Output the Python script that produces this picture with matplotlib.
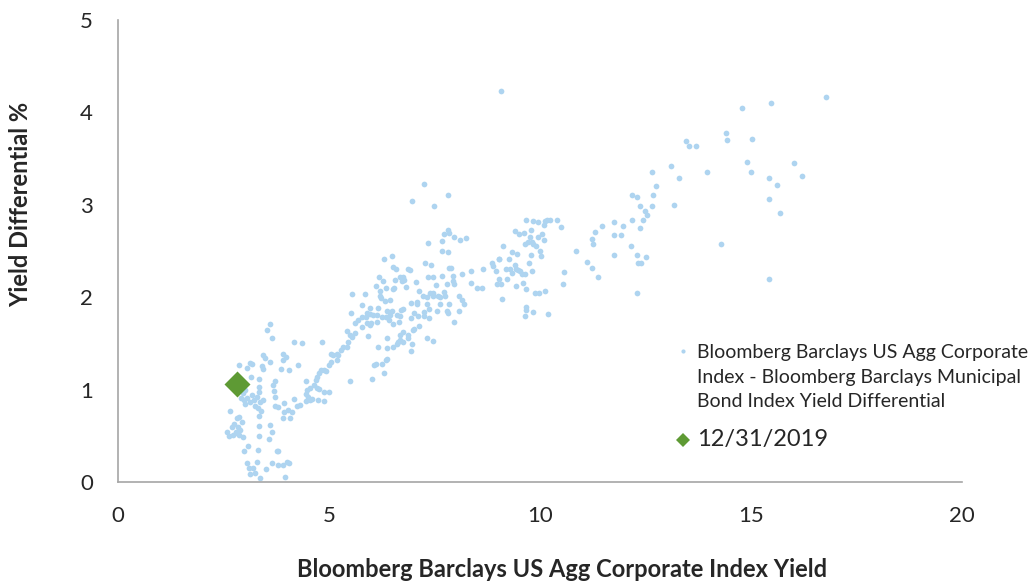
import matplotlib
matplotlib.use("Agg")
import matplotlib.pyplot as plt

plt.rcParams['font.family'] = ['Lato', 'DejaVu Sans']

# corporate index yield (x) vs. corporate - municipal yield differential (y)
corp_yield = [
    # low yield cluster
    3.60, 3.54, 3.65, 4.18, 3.43, 3.48, 3.60, 3.90, 3.98, 3.90, 3.86, 4.05, 4.26, 3.13, 3.18,
    3.05, 2.87, 3.41, 3.44, 3.34, 3.14, 3.35, 3.72, 3.68, 3.35, 3.72, 3.93, 4.17, 2.91, 2.99,
    3.06, 3.13, 3.22, 3.30, 3.36, 3.25, 3.32, 3.38, 3.01, 3.17, 3.44, 3.72, 3.80, 3.93, 4.02,
    4.12, 4.23, 3.92, 4.08, 3.35, 2.66, 2.81, 2.87, 2.93, 2.75, 2.69, 2.85, 2.80, 2.89, 2.59,
    2.64, 2.72, 2.81, 2.97, 2.87, 3.35, 3.60, 3.64, 3.35, 3.57, 3.32, 3.08, 2.99, 3.80, 3.76,
    3.06, 3.29, 3.11, 3.21, 3.13, 3.25, 3.36, 3.51, 3.65, 3.80, 3.92, 4.00, 4.06, 3.96, 3.70,
    3.00, 2.95,
    # 4.3 - 6.4
    4.45, 4.47, 4.55, 4.64, 4.72, 4.77, 4.45, 4.51, 4.55, 4.45, 4.59, 4.75, 4.88, 5.01, 4.88,
    4.31, 4.69, 4.72, 4.77, 4.81, 4.88, 4.93, 5.00, 5.05, 5.50, 6.01, 6.07, 6.11, 6.25, 6.30,
    6.35,
    # 5 - 9 main body
    7.24, 7.81, 6.97, 7.49, 7.81, 7.85, 7.73, 7.97, 8.10, 8.25, 7.35, 7.67, 7.68, 7.83, 6.30,
    6.50, 6.52, 6.59, 6.88, 6.92, 7.28, 7.42, 7.84, 7.89, 8.36, 8.65, 8.87, 8.89, 8.96, 9.02,
    8.99, 9.04, 6.19, 6.29, 6.56, 6.68, 6.76, 6.78, 6.72, 7.07, 7.34, 7.46, 7.68, 7.94, 8.16,
    6.11, 6.35, 6.21, 6.52, 6.54, 6.82, 7.53, 7.80, 7.95, 7.96, 8.36, 8.51, 8.62, 5.54, 5.85,
    6.21, 6.45, 6.33, 6.23, 7.13, 7.22, 7.32, 7.39, 7.47, 7.47, 7.58, 7.73, 7.75, 7.64, 8.08,
    8.14, 6.94, 7.09, 7.08, 7.32, 7.63, 7.85, 8.21, 8.07, 5.78, 5.97, 6.17, 6.37, 6.49, 6.71,
    6.76, 5.52, 5.77, 5.89, 5.97, 5.88, 6.05, 6.13, 6.25, 6.35, 6.45, 6.60, 6.68, 7.02, 7.25,
    7.36, 7.57, 7.79, 7.83, 5.69, 5.62, 5.89, 5.99, 6.13, 6.41, 6.52, 6.65, 6.95, 7.12, 7.26,
    7.38, 7.97, 5.42, 5.50, 5.62, 5.54, 5.77, 5.97, 5.93, 6.37, 6.68, 6.76, 6.88, 7.00, 7.02,
    7.13, 5.34, 5.46, 5.05, 5.10, 5.22, 5.18, 6.16, 6.38, 6.52, 6.60, 6.64, 6.68, 6.76, 6.88,
    6.96, 6.94, 7.32, 7.47, 4.35, 4.83, 6.37, 5.29, 5.43, 5.20,
    # 9 - 13.3
    9.08, 13.10, 12.65, 13.30, 12.75, 12.69, 12.19, 12.31, 12.37, 12.65, 13.17, 12.48, 12.54,
    12.45, 12.19, 12.38, 11.76, 11.96, 11.48, 11.30, 11.75, 11.93, 11.24, 11.26, 12.15, 11.76,
    12.29, 12.52, 12.33, 12.40, 11.12, 11.24, 11.37, 10.85, 12.29, 10.58, 10.54, 10.40, 10.50,
    9.66, 9.84, 9.95, 10.13, 10.16, 10.24, 10.10, 9.41, 9.51, 9.63, 9.78, 9.76, 9.95, 10.05,
    10.09, 9.64, 9.72, 9.80, 9.84, 9.91, 10.00, 10.02, 9.79, 9.12, 9.33, 9.46, 9.27, 9.03,
    9.19, 9.29, 9.34, 9.41, 9.43, 9.47, 9.53, 9.58, 9.64, 9.80, 9.75, 9.08, 9.21, 9.42, 9.60,
    9.68, 9.88, 9.97, 10.13, 9.10, 9.67, 9.68, 9.84, 9.64, 10.19,
    # high yield tail
    13.47, 13.53, 13.70, 16.78, 14.79, 15.48, 14.40, 14.43, 15.03, 13.97, 14.90, 15.00, 15.42,
    15.62, 16.01, 16.22, 15.43, 15.68, 14.29, 15.42,
]

yield_diff = [
    1.71, 1.65, 1.56, 1.51, 1.37, 1.34, 1.30, 1.38, 1.35, 1.32, 1.22, 1.21, 1.27, 1.29, 1.28,
    1.23, 1.27, 1.25, 1.22, 1.11, 1.14, 1.03, 1.09, 1.05, 0.97, 0.92, 0.86, 0.90, 0.91, 0.89,
    0.91, 0.87, 0.89, 0.92, 0.87, 0.82, 0.80, 0.77, 0.84, 0.94, 0.89, 0.82, 0.81, 0.76, 0.78,
    0.76, 0.82, 0.69, 0.69, 0.71, 0.77, 0.69, 0.70, 0.65, 0.63, 0.60, 0.59, 0.54, 0.56, 0.54,
    0.50, 0.51, 0.53, 0.49, 0.51, 0.61, 0.62, 0.54, 0.50, 0.47, 0.35, 0.39, 0.34, 0.34, 0.33,
    0.21, 0.22, 0.15, 0.15, 0.09, 0.10, 0.04, 0.14, 0.21, 0.18, 0.18, 0.22, 0.21, 0.05, 0.98,
    1.00, 0.96,
    1.09, 1.00, 1.02, 1.05, 1.02, 1.01, 0.95, 0.92, 0.89, 0.88, 0.90, 0.89, 0.97, 0.97, 0.88,
    0.83, 1.10, 1.14, 1.18, 1.21, 1.21, 1.20, 1.27, 1.30, 1.09, 1.11, 1.27, 1.28, 1.28, 1.18,
    1.32,
    3.23, 3.11, 3.04, 2.99, 2.73, 2.69, 2.68, 2.65, 2.62, 2.64, 2.59, 2.61, 2.50, 2.49, 2.41,
    2.45, 2.33, 2.31, 2.30, 2.29, 2.37, 2.35, 2.32, 2.32, 2.28, 2.31, 2.37, 2.34, 2.28, 2.41,
    2.14, 2.20, 2.22, 2.18, 2.19, 2.22, 2.22, 2.19, 2.17, 2.16, 2.22, 2.22, 2.23, 2.23, 2.25,
    2.12, 2.10, 2.07, 2.09, 2.10, 2.11, 2.13, 2.14, 2.17, 2.14, 2.15, 2.10, 2.10, 2.03, 2.03,
    2.01, 1.97, 1.96, 1.99, 2.07, 2.01, 2.00, 2.05, 2.05, 2.01, 2.01, 2.06, 2.01, 2.00, 2.01,
    1.97, 1.94, 1.95, 1.93, 1.93, 1.93, 1.93, 1.93, 1.85, 1.92, 1.88, 1.88, 1.85, 1.85, 1.86,
    1.87, 1.83, 1.79, 1.83, 1.82, 1.79, 1.81, 1.81, 1.79, 1.79, 1.81, 1.81, 1.80, 1.83, 1.84,
    1.87, 1.85, 1.85, 1.83, 1.75, 1.72, 1.72, 1.72, 1.73, 1.75, 1.71, 1.73, 1.78, 1.80, 1.80,
    1.77, 1.73, 1.63, 1.59, 1.61, 1.57, 1.68, 1.70, 1.58, 1.56, 1.59, 1.62, 1.59, 1.65, 1.66,
    1.69, 1.46, 1.51, 1.39, 1.37, 1.37, 1.32, 1.46, 1.45, 1.46, 1.49, 1.52, 1.54, 1.52, 1.56,
    1.49, 1.42, 1.56, 1.53, 1.50, 1.51, 1.33, 1.43, 1.46, 1.38,
    4.23, 3.42, 3.35, 3.29, 3.20, 3.11, 3.11, 3.08, 2.99, 2.99, 3.00, 2.93, 2.89,
    2.84, 2.84, 2.75, 2.81, 2.77, 2.77, 2.71, 2.67, 2.67, 2.63, 2.58, 2.55, 2.46,
    2.46, 2.44, 2.37, 2.37, 2.38, 2.32, 2.22, 2.50, 2.04, 2.27, 2.14, 2.84, 2.76,
    2.84, 2.82, 2.81, 2.82, 2.84, 2.84, 2.78, 2.72, 2.68, 2.69, 2.73, 2.65, 2.65, 2.68,
    2.62, 2.58, 2.60, 2.60, 2.58, 2.55, 2.50, 2.45, 2.46, 2.55, 2.49, 2.47, 2.41, 2.41,
    2.31, 2.31, 2.26, 2.35, 2.31, 2.29, 2.28, 2.25, 2.25, 2.28, 2.37, 2.14, 2.20, 2.12, 2.15,
    2.09, 2.05, 2.04, 2.07, 1.98, 1.89, 1.86, 1.84, 1.80, 1.82,
    3.69, 3.64, 3.64, 4.17, 4.05, 4.10, 3.78, 3.70, 3.71, 3.36, 3.46, 3.35, 3.29,
    3.21, 3.45, 3.31, 3.06, 2.91, 2.58, 2.20,
]

# latest observation
latest_label = "12/31/2019"
latest_x = [2.81]
latest_y = [1.06]

series_label = ("Bloomberg Barclays US Agg Corporate\n"
                "Index - Bloomberg Barclays Municipal\n"
                "Bond Index Yield Differential")

dot_color = "#AED4F0"
green = "#5E9A34"
text_color = "#262626"

fig = plt.figure(figsize=(10.31, 5.84), dpi=100)
ax = fig.add_axes([0.1145, 0.1747, 0.8185, 0.7911])

ax.scatter(corp_yield, yield_diff, s=17, color=dot_color, linewidths=0, zorder=2)
ax.scatter(latest_x, latest_y, s=175, marker="D", color=green, linewidths=0, zorder=3)

ax.set_xlim(0, 20)
ax.set_ylim(0, 5)
ax.set_xticks([0, 5, 10, 15, 20])
ax.set_yticks([0, 1, 2, 3, 4, 5])

for side in ["top", "right"]:
    ax.spines[side].set_visible(False)
for side in ["left", "bottom"]:
    ax.spines[side].set_color("#A6A6A6")
    ax.spines[side].set_linewidth(1.2)

ax.tick_params(axis="x", length=0, pad=17, labelsize=16, colors=text_color)
ax.tick_params(axis="y", length=0, pad=18, labelsize=16, colors=text_color)

ax.set_xlabel("Bloomberg Barclays US Agg Corporate Index Yield",
              fontsize=17, fontweight="bold", color=text_color)
ax.set_ylabel("Yield Differential %", fontsize=17, fontweight="bold", color=text_color)
ax.xaxis.set_label_coords(0.526, -0.165)
ax.yaxis.set_label_coords(-0.102, 0.60)

# legend, drawn by hand so the marker sits on the first line of the wrapped label
fig.text(0.676, 0.354, series_label, ha="left", va="center", fontsize=14,
         linespacing=1.55, color=text_color)
fig.text(0.676, 0.2466, latest_label, ha="left", va="center", fontsize=17,
         color=text_color)
ax.plot([0.6622], [0.3995], linestyle="none", marker="o", markersize=3,
        markerfacecolor=dot_color, markeredgewidth=0,
        transform=fig.transFigure, clip_on=False)
ax.plot([0.6622], [0.2466], linestyle="none", marker="D", markersize=7.1,
        markerfacecolor=green, markeredgewidth=0,
        transform=fig.transFigure, clip_on=False)

fig.savefig("out.png", dpi=100)
